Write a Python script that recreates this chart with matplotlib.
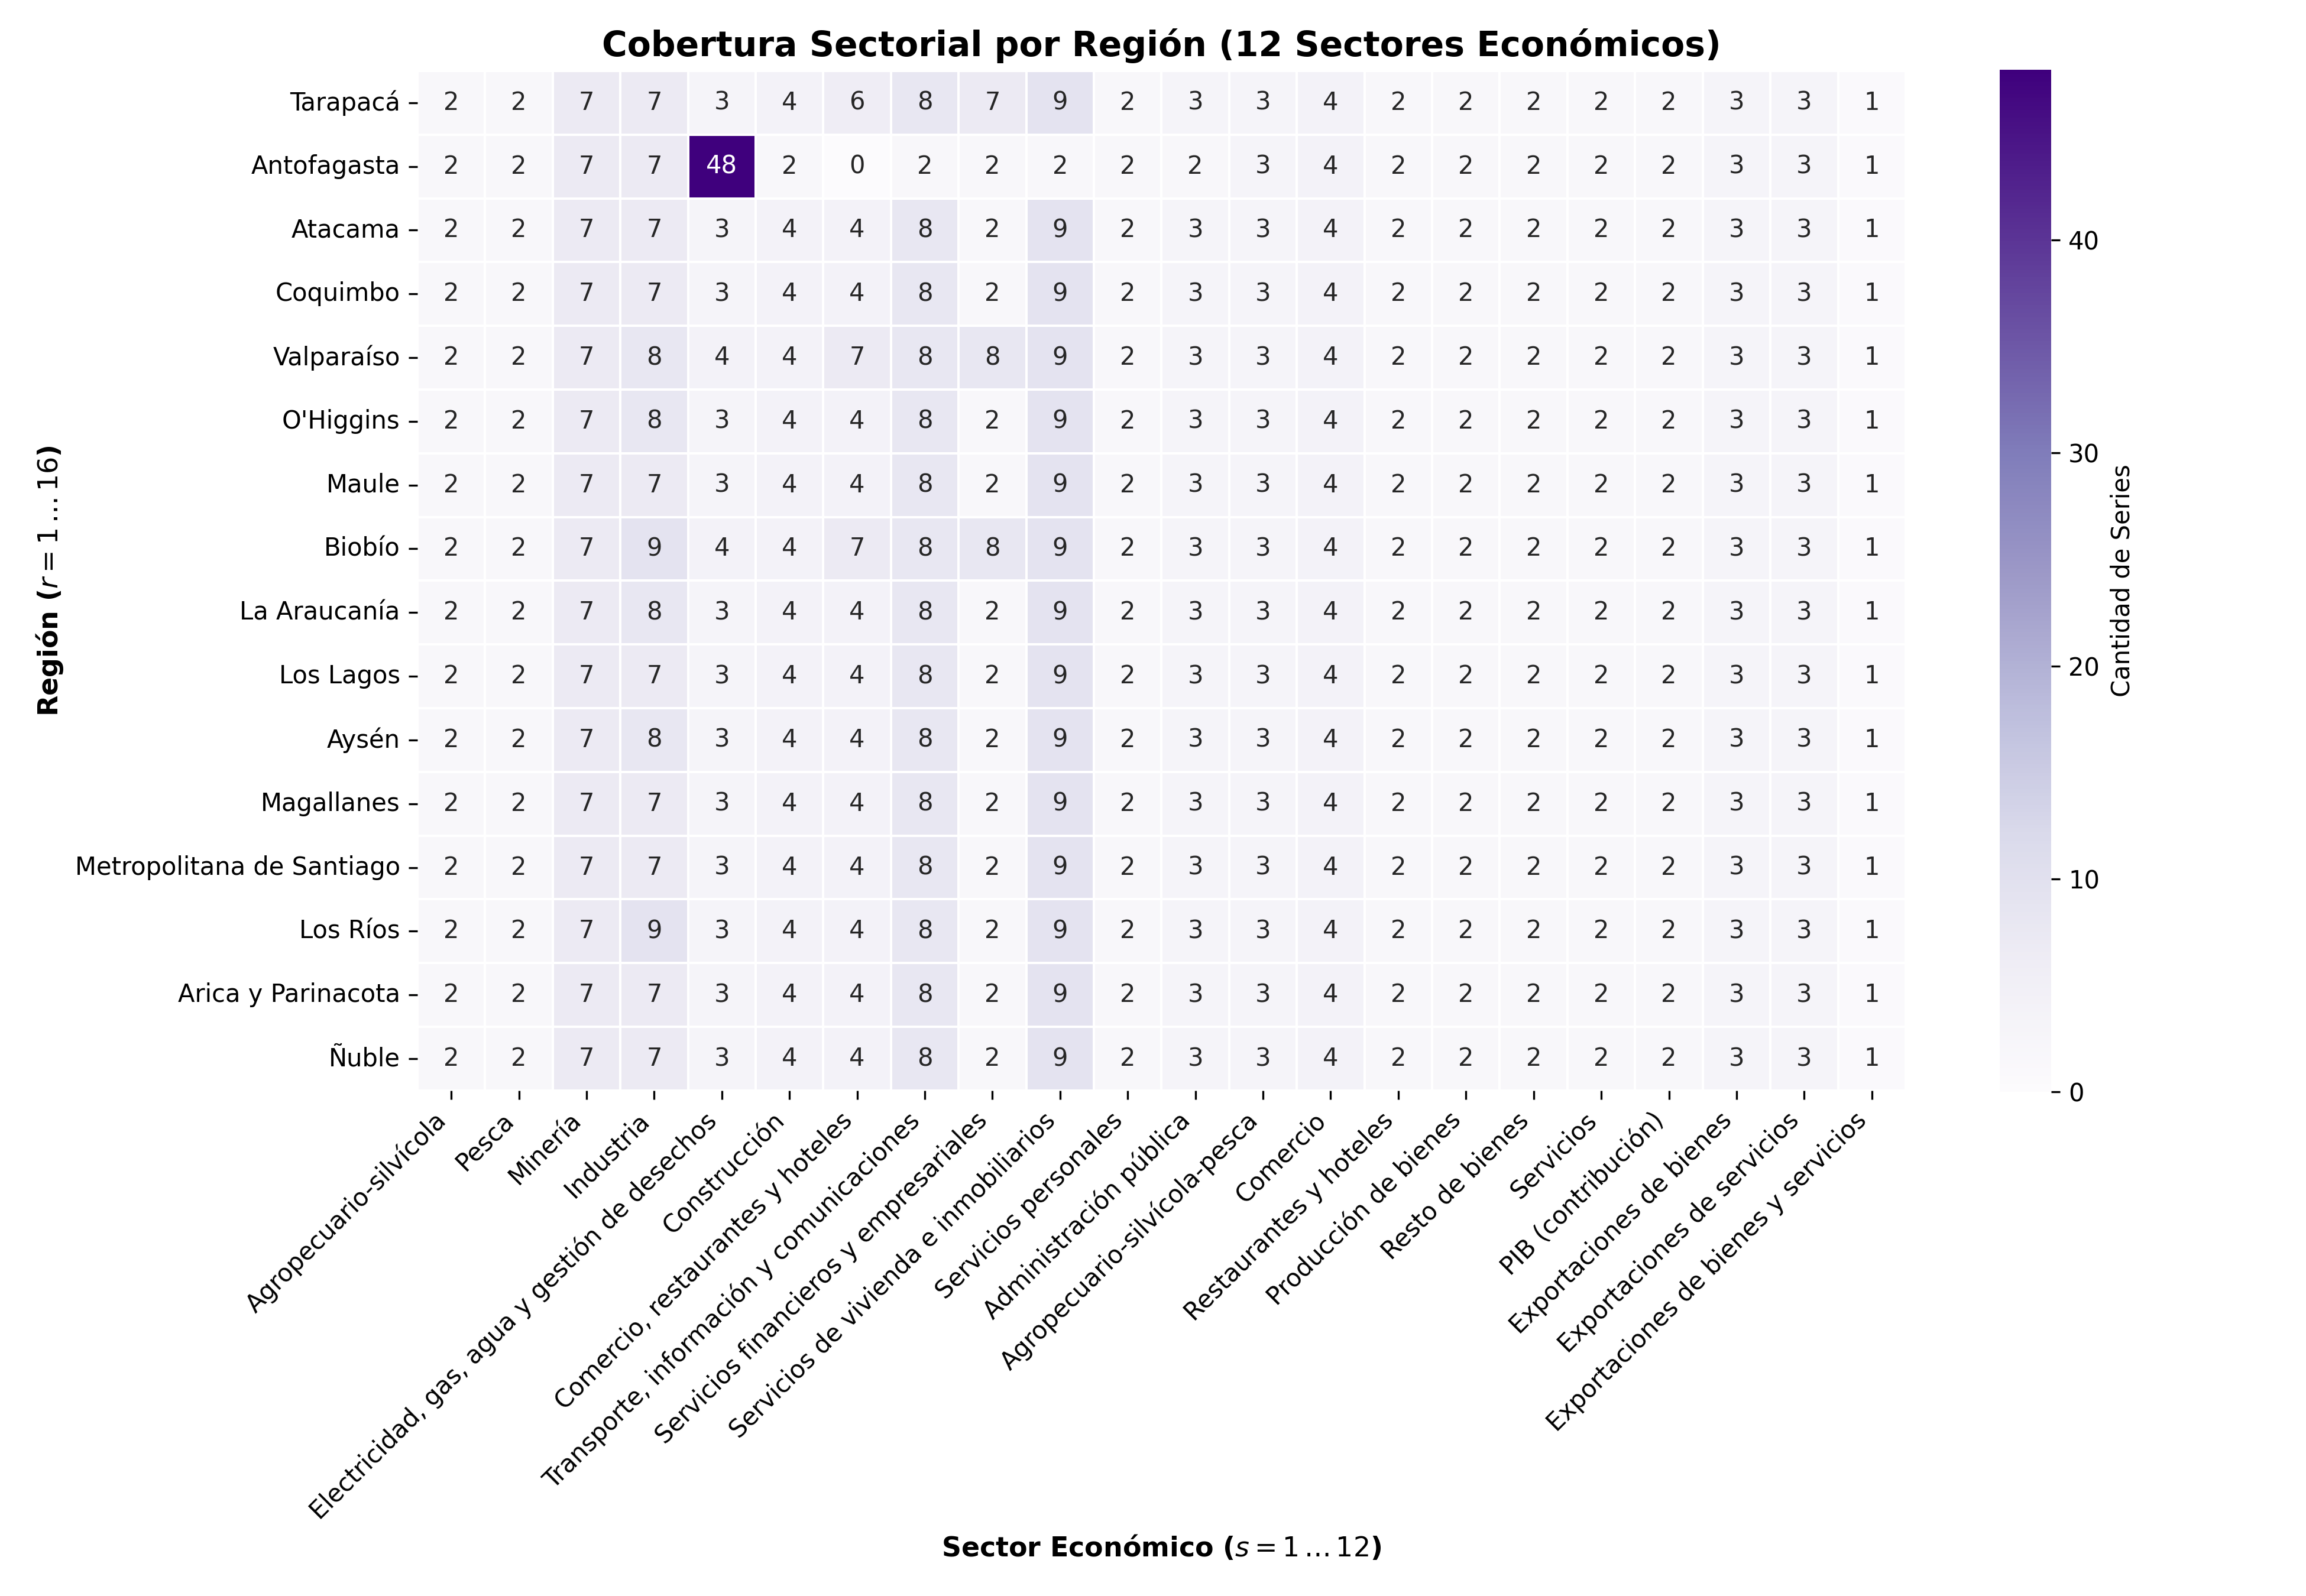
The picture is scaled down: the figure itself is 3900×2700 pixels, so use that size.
import numpy as np
import pandas as pd
import matplotlib
matplotlib.use("Agg")
import matplotlib.pyplot as plt
import seaborn as sns

regiones = ["Tarapacá", "Antofagasta", "Atacama", "Coquimbo", "Valparaíso", "O'Higgins",
            "Maule", "Biobío", "La Araucanía", "Los Lagos", "Aysén", "Magallanes",
            "Metropolitana de Santiago", "Los Ríos", "Arica y Parinacota", "Ñuble"]

sectores = ["Agropecuario-silvícola", "Pesca", "Minería", "Industria",
            "Electricidad, gas, agua y gestión de desechos", "Construcción",
            "Comercio, restaurantes y hoteles", "Transporte, información y comunicaciones",
            "Servicios financieros y empresariales", "Servicios de vivienda e inmobiliarios",
            "Servicios personales", "Administración pública", "Agropecuario-silvícola-pesca",
            "Comercio", "Restaurantes y hoteles", "Producción de bienes", "Resto de bienes",
            "Servicios", "PIB (contribución)", "Exportaciones de bienes",
            "Exportaciones de servicios", "Exportaciones de bienes y servicios"]

# series count per region (rows) x sector (cols)
tarapaca     = [2, 2, 7, 7, 3, 4, 6, 8, 7, 9, 2, 3, 3, 4, 2, 2, 2, 2, 2, 3, 3, 1]
antofagasta  = [2, 2, 7, 7, 48, 2, 0, 2, 2, 2, 2, 2, 3, 4, 2, 2, 2, 2, 2, 3, 3, 1]
atacama      = [2, 2, 7, 7, 3, 4, 4, 8, 2, 9, 2, 3, 3, 4, 2, 2, 2, 2, 2, 3, 3, 1]
coquimbo     = [2, 2, 7, 7, 3, 4, 4, 8, 2, 9, 2, 3, 3, 4, 2, 2, 2, 2, 2, 3, 3, 1]
valparaiso   = [2, 2, 7, 8, 4, 4, 7, 8, 8, 9, 2, 3, 3, 4, 2, 2, 2, 2, 2, 3, 3, 1]
ohiggins     = [2, 2, 7, 8, 3, 4, 4, 8, 2, 9, 2, 3, 3, 4, 2, 2, 2, 2, 2, 3, 3, 1]
maule        = [2, 2, 7, 7, 3, 4, 4, 8, 2, 9, 2, 3, 3, 4, 2, 2, 2, 2, 2, 3, 3, 1]
biobio       = [2, 2, 7, 9, 4, 4, 7, 8, 8, 9, 2, 3, 3, 4, 2, 2, 2, 2, 2, 3, 3, 1]
araucania    = [2, 2, 7, 8, 3, 4, 4, 8, 2, 9, 2, 3, 3, 4, 2, 2, 2, 2, 2, 3, 3, 1]
los_lagos    = [2, 2, 7, 7, 3, 4, 4, 8, 2, 9, 2, 3, 3, 4, 2, 2, 2, 2, 2, 3, 3, 1]
aysen        = [2, 2, 7, 8, 3, 4, 4, 8, 2, 9, 2, 3, 3, 4, 2, 2, 2, 2, 2, 3, 3, 1]
magallanes   = [2, 2, 7, 7, 3, 4, 4, 8, 2, 9, 2, 3, 3, 4, 2, 2, 2, 2, 2, 3, 3, 1]
metropolitana = [2, 2, 7, 7, 3, 4, 4, 8, 2, 9, 2, 3, 3, 4, 2, 2, 2, 2, 2, 3, 3, 1]
los_rios     = [2, 2, 7, 9, 3, 4, 4, 8, 2, 9, 2, 3, 3, 4, 2, 2, 2, 2, 2, 3, 3, 1]
arica        = [2, 2, 7, 7, 3, 4, 4, 8, 2, 9, 2, 3, 3, 4, 2, 2, 2, 2, 2, 3, 3, 1]
nuble        = [2, 2, 7, 7, 3, 4, 4, 8, 2, 9, 2, 3, 3, 4, 2, 2, 2, 2, 2, 3, 3, 1]

filas = [tarapaca, antofagasta, atacama, coquimbo, valparaiso, ohiggins, maule, biobio,
         araucania, los_lagos, aysen, magallanes, metropolitana, los_rios, arica, nuble]
df = pd.DataFrame(filas, index=regiones, columns=sectores)

fig = plt.figure(figsize=(13, 9))
ax = fig.add_axes([0.181, 0.3167, 0.6454, 0.6389])
cax = fig.add_axes([0.8672, 0.3159, 0.0223, 0.6404])
sns.heatmap(df, ax=ax, cbar_ax=cax, cmap="Purples", annot=True, fmt="d",
            linewidths=0.5, linecolor="white", annot_kws={"fontsize": 10},
            cbar_kws={"label": "Cantidad de Series"})
ax.set_title("Cobertura Sectorial por Región (12 Sectores Económicos)", fontsize=14, fontweight="bold")
ax.set_xlabel(r"Sector Económico ($s = 1\,\ldots\,12$)", fontsize=11, fontweight="bold")
ax.set_ylabel(r"Región ($r = 1\,\ldots\,16$)", fontsize=11, fontweight="bold")
plt.setp(ax.get_xticklabels(), rotation=45, ha="right", fontsize=10)
plt.setp(ax.get_yticklabels(), rotation=0, fontsize=10)

fig.savefig("out.png", dpi=300)
